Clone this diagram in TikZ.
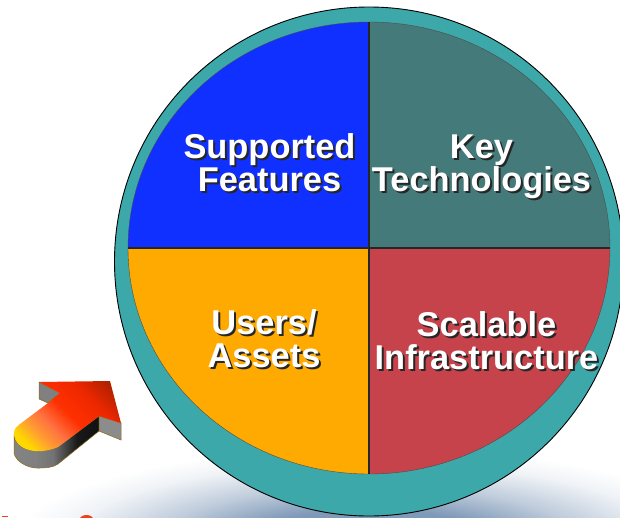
\documentclass[tikz,border=0pt]{standalone}
\usepackage{fontspec}
\setmainfont{Liberation Sans}
\usetikzlibrary{calc}
\definecolor{ringc}{HTML}{3DA8AA}
\definecolor{bluec}{HTML}{1030FF}
\definecolor{tealc}{HTML}{447A7A}
\definecolor{orangec}{HTML}{FFAA00}
\definecolor{redc}{HTML}{C7434B}
\definecolor{glowc}{HTML}{7F99B8}
\definecolor{edgec}{HTML}{8A6A10}
\definecolor{textred}{HTML}{F04020}
\definecolor{arA}{HTML}{FFD800}
\definecolor{arB}{HTML}{FFA030}
\definecolor{arC}{HTML}{FF7040}
\definecolor{arD}{HTML}{FF3000}
\definecolor{arE}{HTML}{EE2800}
\definecolor{arF}{HTML}{B02000}
\pgfdeclareradialshading{glowshade}{\pgfpoint{0bp}{0bp}}{color(0bp)=(glowc); color(9bp)=(glowc); color(15bp)=(glowc!50!white); color(21bp)=(glowc!12!white); color(25bp)=(white); color(50bp)=(white)}
\pgfdeclarehorizontalshading{arrowshade}{100bp}{color(0bp)=(arA); color(24bp)=(arA); color(32bp)=(arB); color(41bp)=(arC); color(52bp)=(arD); color(66bp)=(arE); color(80bp)=(arF); color(100bp)=(arF)}
\pgfdeclarehorizontalshading{sideshade}{100bp}{color(0bp)=(black!45); color(38bp)=(black!50); color(48bp)=(black!55); color(62bp)=(black!90); color(100bp)=(black)}
\tikzset{
  lab/.style={font=\bfseries\fontsize{34.4}{33}\selectfont,align=center,text=white,inner sep=0pt},
  shadow lab/.style={lab,text=black!85},
  arrowedge/.style={draw=edgec,line width=0.5pt},
}
\newcommand{\shadowlabel}[4]{%
  \node[shadow lab] (#1s) at ($(#2,#3)+(2,2)$) {#4};
  \node[lab] (#1) at (#2,#3) {#4};}
\begin{document}
\begin{tikzpicture}[x=1pt,y=-1pt]
\useasboundingbox (0,0) rectangle (620,517);
% background glow
\begin{scope}
\clip (0,0) rectangle (620,517);
\fill[white] (0,0) rectangle (620,517);
\path[shading=glowshade] (370,545) ellipse (360 and 98);
\end{scope}
% disc
\begin{scope}
\clip (0,0) rectangle (620,517);
\fill[ringc,draw=black,line width=0.9pt] (369,261.5) circle (254.5);
\begin{scope}
\clip (369,248) ellipse (241 and 226);
\fill[bluec] (128,22) rectangle (369,248);
\fill[tealc] (369,22) rectangle (610,248);
\fill[orangec] (128,248) rectangle (369,474);
\fill[redc] (369,248) rectangle (610,474);
\end{scope}
\draw[black!70,line width=0.4pt] (369,248) ellipse (241 and 226);
\begin{scope}
\clip (369,248) ellipse (241 and 226);
\draw[black!85,line width=1.1pt] (128,248) -- (610,248) (369,22) -- (369,474);
\end{scope}
\end{scope}
% labels
\shadowlabel{sf}{269.5}{162.5}{Supported\\Features}
\shadowlabel{kt}{481.5}{167}{Key\\Technologies}
\shadowlabel{ua}{264}{339}{Users/\\Assets}
\shadowlabel{si}{486.5}{341}{Scalable\\Infrastructure}
% arrow
\path[arrowedge,shading=sideshade,shading angle=0]
  (14,434) -- (14,453) .. controls (16,462) and (28,468) .. (37,468)
  .. controls (45,468) and (52,468) .. (58,464)
  -- (99,431) -- (99,416) -- (58,447) .. controls (35,455) and (15,450) .. (14,434) -- cycle;
\path[arrowedge,fill=black!45] (99,416) -- (121,423) -- (121,440) -- (99,431) -- cycle;
\path[arrowedge,fill=black!50] (39,382) -- (60,393) -- (48,403) -- (39,399) -- cycle;
\path[shading=arrowshade,shading angle=45]
  (39,382) -- (110,381) -- (121,423) -- (99,416) -- (58,447)
  .. controls (40,455) and (15,452) .. (14,433)
  .. controls (14,428) and (17,427) .. (20,424)
  -- (48,403) -- (60,393) -- cycle;
% red text tops
\fill[textred] (2,516) rectangle (8,517);
\begin{scope}
\clip (0,0) rectangle (620,517);
\fill[textred] (86.5,519) ellipse (6.5 and 4);
\end{scope}
\end{tikzpicture}
\end{document}
